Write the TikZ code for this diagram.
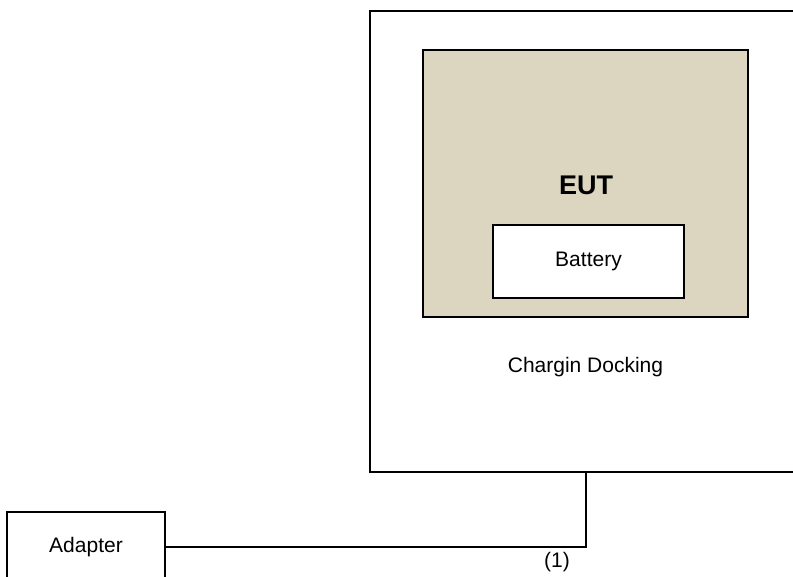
\documentclass[tikz,border=0pt]{standalone}
\usepackage{fontspec}
\setmainfont{Liberation Sans}
\usepackage{xcolor}
\usetikzlibrary{positioning}
\definecolor{eutfill}{RGB}{220,214,193}
\tikzset{
  box/.style={draw=black,line width=2pt,rectangle,inner sep=0,outer sep=0},
  box dock/.style={box,fill=white,minimum width=431pt,minimum height=461pt},
  box eut/.style={box,fill=eutfill,minimum width=325pt,minimum height=267pt},
  box bat/.style={box,fill=white,minimum width=191pt,minimum height=73pt,font=\fontsize{21}{25}\selectfont},
  box adapter/.style={box,fill=white,minimum width=158pt,minimum height=70pt,font=\fontsize{21}{25}\selectfont},
  label txt/.style={inner sep=0,anchor=base,font=\fontsize{21}{25}\selectfont},
  connect/.style={line width=2pt,black}
}
\begin{document}
\begin{tikzpicture}[x=1pt,y=-1pt]
  \useasboundingbox (0,0) rectangle (793,577);
  \clip (0,0) rectangle (793,577);
  \node[box dock] (dock) at (585.5,241.5) {};
  \node[box eut] (eut) at (585.5,183.5) {};
  \node[box bat] (bat) at (588.5,261.5) {Battery};
  \node[label txt,font=\fontsize{27}{32}\selectfont\bfseries] (eutlbl) at (586,195) {EUT};
  \node[label txt] (docklbl) at (585.5,373) {Chargin Docking};
  \node[box adapter] (adapter) at (86,547) {Adapter};
  % cable from adapter up to the docking
  \draw[connect] (dock.south) |- coordinate (cable) (adapter.east);
  \node[label txt] (cablelbl) at (557,567) {(1)};
\end{tikzpicture}
\end{document}
